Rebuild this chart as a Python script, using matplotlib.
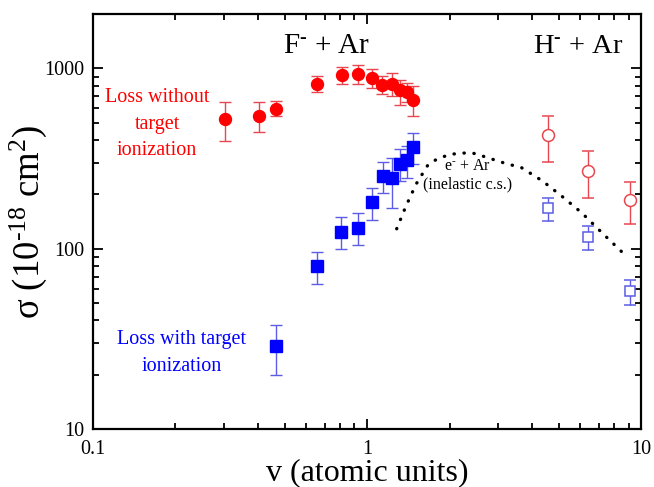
import numpy as np
import matplotlib
matplotlib.use("Agg")
import matplotlib.pyplot as plt
from matplotlib.ticker import LogLocator, NullFormatter, FixedLocator, FixedFormatter

plt.rcParams['font.family'] = ['Liberation Serif', 'DejaVu Serif']
plt.rcParams['mathtext.fontset'] = 'custom'
plt.rcParams['mathtext.rm'] = 'Liberation Serif'
plt.rcParams['mathtext.it'] = 'Liberation Serif:italic'
plt.rcParams['mathtext.bf'] = 'Liberation Serif:bold'

# F- + Ar, loss without target ionization (red filled circles)
f_wo_x = [0.303, 0.404, 0.464, 0.657, 0.809, 0.925, 1.04, 1.137, 1.23, 1.32, 1.40, 1.47]
f_wo_y = [523, 543, 599, 819, 915, 935, 884, 813, 823, 763, 737, 666]
f_wo_hi = [649, 649, 663, 912, 1017, 1043, 996, 910, 942, 859, 830, 795]
f_wo_lo = [395, 443, 543, 737, 823, 823, 778, 725, 700, 630, 650, 543]

# F- + Ar, loss with target ionization (blue filled squares)
f_w_x = [0.465, 0.657, 0.806, 0.93, 1.04, 1.14, 1.23, 1.32, 1.40, 1.47]
f_w_y = [28.7, 80.5, 124.6, 131, 182, 253, 246, 296, 310, 366]
f_w_hi = [37.6, 96, 149, 157, 217, 303, 319, 356, 371, 440]
f_w_lo = [19.9, 64, 100, 105, 145, 205, 169, 238, 248, 294]

# H- + Ar (open symbols)
h_x = [4.57, 6.42, 9.12]
h_wo_y = [425, 270, 187]
h_wo_hi = [548, 348, 235]
h_wo_lo = [303, 191, 137]
h_w_y = [168, 115.5, 58]
h_w_hi = [192, 133, 67]
h_w_lo = [143, 98, 49]

# e- + Ar inelastic cross section (dotted)
e_x = [1.283, 1.384, 1.51, 1.674, 1.82, 2.02, 2.22, 2.42, 2.65, 3.14, 3.67, 4.36, 5.13, 6.08, 7.39, 8.67]
e_y = [129, 171, 228, 294, 317, 334, 339, 340, 326, 300, 281, 238, 196, 158, 118, 93.5]

xticks = [0.1, 1, 10]
xticklabels = ['0.1', '1', '10']
yticks = [10, 100, 1000]
yticklabels = ['10', '100', '1000']

RED = '#ff0000'
RED_E = '#e8474f'
BLUE = '#0000ff'
BLUE_E = '#5c5ce6'

def yerr(y, lo, hi):
    y = np.asarray(y, float)
    return np.vstack([y - np.asarray(lo, float), np.asarray(hi, float) - y])

fig = plt.figure(figsize=(6.54, 4.87), dpi=100)
ax = fig.add_axes([0.1422, 0.119, 0.838, 0.852])

ms = 8.6
cap = 4.3
ax.plot(e_x, e_y, color='black', lw=2.4, linestyle=(0, (0.1, 2.9)),
        dash_capstyle='round', zorder=1)

ax.errorbar(f_wo_x, f_wo_y, yerr=yerr(f_wo_y, f_wo_lo, f_wo_hi), fmt='o', ms=ms,
            mfc=RED, mec=RED, ecolor=RED_E, elinewidth=1.0, capsize=cap, capthick=1.0, zorder=3)
ax.errorbar(f_w_x, f_w_y, yerr=yerr(f_w_y, f_w_lo, f_w_hi), fmt='s', ms=ms,
            mfc=BLUE, mec=BLUE, ecolor=BLUE_E, elinewidth=1.0, capsize=cap, capthick=1.0, zorder=3)
ax.errorbar(h_x, h_wo_y, yerr=yerr(h_wo_y, h_wo_lo, h_wo_hi), fmt='o', ms=ms,
            mfc='white', mec=RED_E, mew=1.1, ecolor=RED_E, elinewidth=1.0, capsize=cap, capthick=1.0, zorder=3)
ax.errorbar(h_x, h_w_y, yerr=yerr(h_w_y, h_w_lo, h_w_hi), fmt='s', ms=ms * 0.9,
            mfc='white', mec=BLUE_E, mew=1.1, ecolor=BLUE_E, elinewidth=1.0, capsize=cap, capthick=1.0, zorder=3)

ax.set_xscale('log')
ax.set_yscale('log')
ax.set_xlim(0.1, 10)
ax.set_ylim(10, 2000)

ax.xaxis.set_major_locator(FixedLocator(xticks))
ax.xaxis.set_major_formatter(FixedFormatter(xticklabels))
ax.yaxis.set_major_locator(FixedLocator(yticks))
ax.yaxis.set_major_formatter(FixedFormatter(yticklabels))
ax.xaxis.set_minor_locator(LogLocator(base=10, subs=np.arange(2, 10)))
ax.yaxis.set_minor_locator(LogLocator(base=10, subs=np.arange(2, 10)))
ax.xaxis.set_minor_formatter(NullFormatter())
ax.yaxis.set_minor_formatter(NullFormatter())

ax.tick_params(which='both', direction='in', top=True, right=True, width=1.3, labelsize=14.5)
ax.tick_params(axis='x', which='major', pad=8)
ax.tick_params(axis='y', which='major', pad=6)
ax.tick_params(which='major', length=7)
ax.tick_params(which='minor', length=4)
for s in ax.spines.values():
    s.set_linewidth(1.6)

ax.set_xlabel('v (atomic units)', fontsize=23)
ax.xaxis.set_label_coords(0.5, -0.07)
ax.set_ylabel(r'σ (10$^{\text{-18}}$ cm$^{2}$)', fontsize=26.5)
ax.yaxis.set_label_coords(-0.08, 0.5)

ax.text(0.427, 0.923, r'F$^{\text{-}}$ + Ar', transform=ax.transAxes, ha='center', va='center', fontsize=21)
ax.text(0.885, 0.923, r'H$^{\text{-}}$ + Ar', transform=ax.transAxes, ha='center', va='center', fontsize=20.5)
ax.text(0.117, 0.735, 'Loss without\ntarget\nionization', transform=ax.transAxes, ha='center',
        va='center', fontsize=14.5, color=RED, linespacing=1.55)
ax.text(0.162, 0.184, 'Loss with target\nionization', transform=ax.transAxes, ha='center',
        va='center', fontsize=14.5, color=BLUE, linespacing=1.55)
ax.text(0.684, 0.612, r'e$^{\text{-}}$ + Ar' + '\n(inelastic c.s.)', transform=ax.transAxes, ha='center',
        va='center', fontsize=11.5, color='black', linespacing=1.2)

fig.savefig('out.png', dpi=100)
